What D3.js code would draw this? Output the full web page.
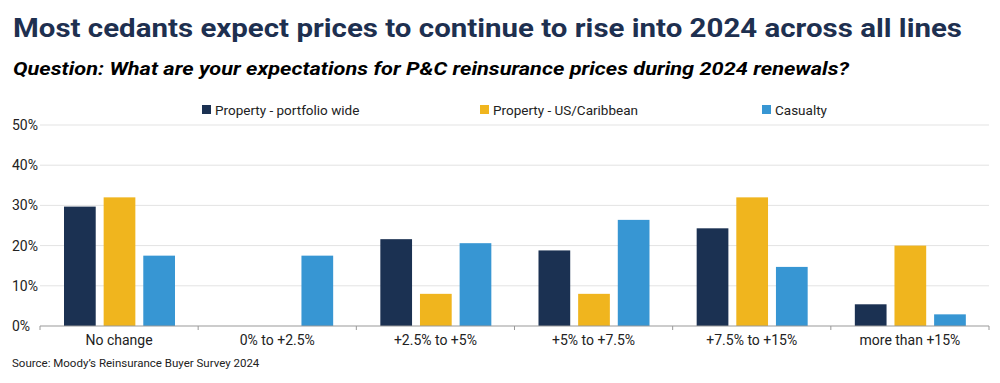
<!DOCTYPE html>
<html><head><meta charset="utf-8">
<script src="https://cdn.jsdelivr.net/npm/d3@7"></script>
<style>
body{margin:0;background:#fff;}
text{font-family:Roboto, "Liberation Sans", sans-serif;}
</style></head>
<body>
<svg id="c" width="1000" height="383"></svg>
<script>
const categories = ["No change","0% to +2.5%","+2.5% to +5%","+5% to +7.5%","+7.5% to +15%","more than +15%"];
const seriesNames = ["Property - portfolio wide","Property - US/Caribbean","Casualty"];
const propertyPortfolio = [29.7, 0, 21.6, 18.8, 24.3, 5.4];
const propertyUSCaribbean = [32.0, 0, 8.0, 8.0, 32.0, 20.0];
const casualty = [17.5, 17.5, 20.6, 26.4, 14.7, 2.9];
const yTicks = [0,10,20,30,40,50];
const colors = ["#1b3152","#f0b51e","#3796d3"];

const seriesValues = [propertyPortfolio, propertyUSCaribbean, casualty];
const svg = d3.select("#c");

svg.append("text").attr("x",13).attr("y",37).attr("font-size",26).attr("font-weight",700)
  .attr("fill","#1e3050").attr("textLength",949).attr("lengthAdjust","spacingAndGlyphs")
  .text("Most cedants expect prices to continue to rise into 2024 across all lines");
svg.append("text").attr("x",13).attr("y",75).attr("font-size",19).attr("font-weight",700)
  .attr("font-style","italic").attr("fill","#000").attr("textLength",836).attr("lengthAdjust","spacingAndGlyphs")
  .text("Question: What are your expectations for P&C reinsurance prices during 2024 renewals?");

const x0 = d3.scaleBand().domain(categories).range([40,989]).paddingInner(0).paddingOuter(0);
const x1 = d3.scaleBand().domain(seriesNames).range([24,135]).paddingInner(0.2);
const y = d3.scaleLinear().domain([0,50]).range([326,125]);

// gridlines
svg.append("g").selectAll("line").data(yTicks.filter(d=>d>0)).join("line")
  .attr("x1",40).attr("x2",989).attr("y1",d=>y(d)).attr("y2",d=>y(d))
  .attr("stroke","#e3e3e3").attr("stroke-width",1);

// y labels
svg.append("g").selectAll("text").data(yTicks).join("text")
  .attr("x",12).attr("y",d=>y(d)).attr("dy","0.35em").attr("font-size",14).attr("fill","#222")
  .text(d=>d+"%");

// bars
const g = svg.append("g");
categories.forEach((c,i)=>{
  seriesNames.forEach((s,j)=>{
    const v = seriesValues[j][i];
    if(v<=0) return;
    g.append("rect").attr("x",x0(c)+x1(s)).attr("width",x1.bandwidth())
      .attr("y",y(v)).attr("height",y(0)-y(v)).attr("fill",colors[j]);
  });
});

// x axis
const xa = svg.append("g").attr("transform","translate(0,326)");
xa.append("line").attr("x1",40).attr("x2",989).attr("stroke","#999");
const tickPos = categories.map(c=>x0(c)).concat([x0.range()[1]]);
xa.selectAll("line.t").data(tickPos).join("line").attr("class","t")
  .attr("x1",d=>d).attr("x2",d=>d).attr("y1",0).attr("y2",4).attr("stroke","#999");
xa.selectAll("text").data(categories).join("text")
  .attr("x",d=>x0(d)+x0.bandwidth()/2).attr("y",19).attr("text-anchor","middle")
  .attr("font-size",14).attr("fill","#222").text(d=>d);

// legend
const legendX = [202,480,762];
const lg = svg.append("g");
seriesNames.forEach((s,j)=>{
  lg.append("rect").attr("x",legendX[j]).attr("y",105).attr("width",9).attr("height",9).attr("fill",colors[j]);
  lg.append("text").attr("x",legendX[j]+13).attr("y",110).attr("dy","0.35em").attr("font-size",13.5).attr("fill","#222").text(s);
});

svg.append("text").attr("x",12).attr("y",367).attr("font-size",11.5).attr("fill","#222")
  .text("Source: Moody’s Reinsurance Buyer Survey 2024");
</script>
</body></html>
